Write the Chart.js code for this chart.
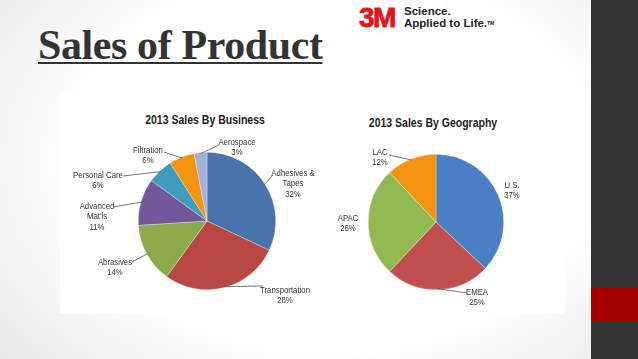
<!DOCTYPE html>
<html>
<head>
<meta charset="utf-8">
<script src="https://cdn.jsdelivr.net/npm/chart.js@4"></script>
<style>
  html, body { margin:0; padding:0; }
  body { width:638px; height:359px; overflow:hidden; position:relative;
    background: radial-gradient(ellipse 75% 95% at 52% 45%, #ffffff 55%, #eeeeee 80%, #e2e2e2 100%);
    font-family: "Liberation Sans", Arial, sans-serif; }
  #imgbg { position:absolute; left:60px; top:92px; width:505px; height:222px; background:#fff; }
  #title { position:absolute; left:38px; top:21px; font-family:"Liberation Serif", "Times New Roman", serif;
    font-weight:bold; font-size:42px; color:#333; text-decoration:underline; text-decoration-thickness:2px;
    text-underline-offset:3px; white-space:nowrap; letter-spacing:-0.4px; }
  #side { position:absolute; left:591px; top:0; width:47px; height:359px; background:#333333; }
  #red { position:absolute; left:591px; top:287px; width:47px; height:35px; background:#a80000; }
  #logo3m { position:absolute; left:359px; top:3px; font-family:"Liberation Sans", Arial, sans-serif;
    font-weight:bold; font-size:28px; color:#e4141b; letter-spacing:-1.5px; line-height:30px;
    -webkit-text-stroke:0.8px #e4141b; }
  #logotxt { position:absolute; left:404px; top:5px; font-family:"Liberation Sans", Arial, sans-serif;
    font-weight:bold; font-size:11.5px; line-height:12px; color:#222; white-space:nowrap; }
  #logotxt sup { font-size:5px; vertical-align:top; }
  .ctitle { position:absolute; font-family:"Liberation Sans", Arial, sans-serif;
    font-weight:bold; font-size:12.5px; color:#222; white-space:nowrap; transform:translateX(-50%) scaleX(0.84); }
  canvas { position:absolute; }
</style>
</head>
<body>
<div id="imgbg"></div>
<div id="title">Sales of Product</div>
<div id="logo3m">3M</div>
<div id="logotxt">Science.<br>Applied to Life.<sup>TM</sup></div>
<div id="side"></div>
<div id="red"></div>
<div class="ctitle" style="left:205px; top:113px;">2013 Sales By Business</div>
<div class="ctitle" style="left:433px; top:116px;">2013 Sales By Geography</div>
<canvas id="c1" width="270" height="185" style="left:60px; top:130px;"></canvas>
<canvas id="c2" width="230" height="185" style="left:330px; top:131px;"></canvas>
<script>
// ---- data ----
const businessCategories = ["Adhesives &\nTapes", "Transportation", "Abrasives", "Advanced\nMat'ls", "Personal Care", "Filtration", "Aerospace"];
const businessValues = [32, 28, 14, 11, 6, 6, 3];
const geographyCategories = ["U.S.", "EMEA", "APAC", "LAC"];
const geographyValues = [37, 25, 26, 12];

// ---- styling / label layout (relative to pie centre) ----
const businessColors = ["#4a73ad", "#b94744", "#8bab4d", "#72579a", "#3f9cbd", "#f29312", "#a0b3d6"];
const geographyColors = ["#4b7ec2", "#c0504d", "#92b851", "#f29312"];
// [text centre dx, first line dy, leader end dx, leader end dy or null]
const businessLabelLayout = [
  [86, -48, 66, -46], [78, 69, 56, 65], [-92, 41, -75, 41], [-110, -15, -94, -14],
  [-109, -46, -84, -45], [-59, -71, -43, -69], [30, -79, 12, -76]
];
const geographyLabelLayout = [
  [76, -37, null, null], [41, 70, 31, 71], [-88, -4, null, null], [-56, -70, -47, -67]
];

const labelPlugin = {
  id: 'sliceLabels',
  afterDatasetsDraw(chart, args, opts) {
    const ctx = chart.ctx;
    const meta = chart.getDatasetMeta(0);
    const data = chart.data.datasets[0].data;
    const total = data.reduce((a, b) => a + b, 0);
    ctx.save();
    ctx.font = '9.5px "Liberation Sans", Arial, sans-serif';
    ctx.fillStyle = '#333';
    ctx.strokeStyle = '#555';
    ctx.lineWidth = 0.8;
    ctx.textAlign = 'center';
    ctx.textBaseline = 'middle';
    meta.data.forEach((arc, i) => {
      const p = arc.getProps(['x', 'y', 'startAngle', 'endAngle', 'outerRadius'], true);
      const mid = (p.startAngle + p.endAngle) / 2;
      const lay = opts.layout[i];
      const ex = p.x + Math.cos(mid) * (p.outerRadius - 1);
      const ey = p.y + Math.sin(mid) * (p.outerRadius - 1);
      if (lay[2] !== null) {
        ctx.beginPath();
        ctx.moveTo(ex, ey);
        ctx.lineTo(p.x + lay[2], p.y + lay[3]);
        ctx.stroke();
      }
      const lines = chart.data.labels[i].split('\n');
      lines.push(Math.round(data[i] / total * 100) + '%');
      lines.forEach((t, k) => {
        ctx.save();
        ctx.translate(p.x + lay[0], p.y + lay[1] + k * 10.5);
        ctx.scale(0.82, 1);
        ctx.fillText(t, 0, 0);
        ctx.restore();
      });
    });
    ctx.restore();
  }
};

function makePie(id, labels, values, colors, layout, pad) {
  return new Chart(document.getElementById(id), {
    type: 'pie',
    data: { labels: labels, datasets: [{ data: values, backgroundColor: colors,
      borderColor: 'rgba(255,255,255,0.6)', borderWidth: 0.5, hoverOffset: 0 }] },
    options: {
      responsive: false, animation: false, devicePixelRatio: 1,
      layout: { padding: pad },
      plugins: { legend: { display: false }, tooltip: { enabled: false }, sliceLabels: { layout: layout } }
    },
    plugins: [labelPlugin]
  });
}
makePie('c1', businessCategories, businessValues, businessColors, businessLabelLayout,
  { left: 78, right: 54, top: 22, bottom: 25 });
makePie('c2', geographyCategories, geographyValues, geographyColors, geographyLabelLayout,
  { left: 38, right: 56, top: 22, bottom: 25 });
</script>
</body>
</html>
